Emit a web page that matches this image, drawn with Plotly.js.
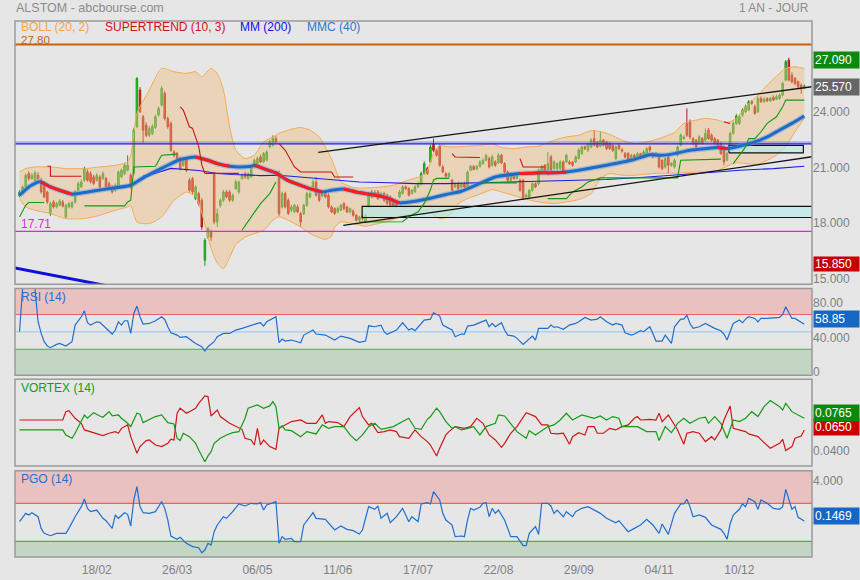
<!DOCTYPE html>
<html><head><meta charset="utf-8">
<script src="https://cdn.plot.ly/plotly-3.0.1.min.js"></script>
<style>html,body{margin:0;padding:0;background:#e6e6e6;}#chart{width:860px;height:580px;}</style>
</head><body><div id="chart"></div>
<script>
// ---------- DATA (bar number = trading day, 0 = 14/01) ----------
const tickBars = [25,51,77,103,129,155,181,207,233];
const tickLabels = ['18/02','26/03','06/05','11/06','17/07','22/08','29/09','04/11','10/12'];

const open = [19.62,19.84,20.11,20.83,20.56,20.47,20.74,20.47,20.29,19.84,
18.67,19.30,19.03,19.12,19.30,18.49,19.03,19.03,19.30,19.93,
20.11,20.47,20.92,20.83,20.65,20.47,20.65,20.56,20.56,20.29,
20.11,19.93,20.11,20.65,20.83,21.01,20.74,20.83,23.36,25.34,
23.90,23.45,22.90,23.00,23.32,23.99,24.53,25.16,23.81,23.54,
22.00,21.91,21.64,21.28,21.64,20.47,20.56,19.48,19.75,19.39,
16.15,17.41,17.68,20.83,18.22,19.12,19.39,19.84,19.84,19.39,
20.02,19.84,20.56,20.83,20.56,20.65,21.19,21.28,21.73,21.46,
21.55,22.27,22.36,22.72,20.83,19.03,19.75,19.39,18.85,18.76,
19.03,18.67,18.67,19.12,19.57,20.11,20.38,19.75,19.62,19.75,
19.66,19.03,18.94,18.76,18.85,19.21,19.03,18.76,18.80,18.58,
18.31,18.55,18.22,19.03,19.84,19.66,19.84,19.57,19.75,19.66,
19.57,19.39,19.30,19.57,19.75,20.11,20.02,19.75,19.84,20.11,
20.29,20.83,21.10,21.46,22.45,22.09,22.30,21.19,20.83,20.65,
20.47,20.11,20.29,20.11,20.29,20.11,21.01,21.22,21.10,21.22,
21.37,21.55,21.64,21.28,21.46,21.41,21.82,21.37,20.92,20.47,
20.83,20.56,20.47,20.47,19.57,19.57,19.93,20.29,20.29,20.92,
21.28,21.01,21.73,21.10,21.10,21.10,21.46,21.46,21.46,21.46,
21.46,21.64,21.91,22.27,22.09,22.27,22.72,22.54,22.30,22.63,
22.54,22.45,22.36,21.64,22.36,22.12,21.91,21.91,21.55,21.82,
21.64,21.91,21.82,21.82,22.27,21.91,21.76,21.82,21.55,21.19,
21.73,21.28,21.19,21.82,22.36,22.72,23.54,23.63,22.72,22.63,
22.45,22.72,22.63,23.18,22.90,22.72,22.63,22.45,22.27,21.55,
22.36,23.00,23.54,23.54,23.99,24.17,24.26,24.71,24.44,24.17,
24.89,24.71,24.89,24.76,24.95,24.84,24.89,25.07,25.88,26.96,
26.15,25.97,25.79,25.61,25.48];
const high = [19.95,20.2,20.85,20.95,20.85,21.0,20.9,20.6,20.4,19.9,
19.3,19.4,19.3,19.45,19.4,19.2,19.3,19.35,19.95,20.4,
20.5,21.2,21.05,20.95,20.75,20.85,20.75,20.95,20.65,20.4,
20.2,20.3,21.0,21.1,21.4,21.82,20.85,23.3,26.05,25.5,
24.0,23.6,23.4,23.5,24.0,24.45,25.55,25.3,23.9,23.65,
22.1,22.0,21.75,21.75,21.75,20.6,20.65,20.2,19.85,19.5,
17.35,17.95,17.8,20.9,18.94,19.5,19.95,19.95,19.95,19.75,
20.5,20.45,20.85,20.95,20.9,21.3,21.65,21.75,21.85,22.0,
22.1,22.65,22.9,22.85,21.0,19.85,19.85,19.5,19.15,19.2,
19.15,18.75,19.2,19.85,19.85,20.5,20.65,19.85,19.8,19.85,
19.75,19.1,19.0,19.05,19.2,19.3,19.1,19.0,18.9,18.65,
18.55,18.65,18.65,19.75,19.95,19.95,19.95,19.85,19.85,19.75,
19.65,19.45,19.4,19.95,20.2,20.2,20.1,20.0,20.2,20.4,
20.95,21.5,21.2,22.4,22.72,22.2,22.4,21.3,20.9,20.9,
20.55,20.35,20.4,20.35,20.4,21.0,21.3,21.3,21.3,21.55,
21.65,21.9,21.75,21.85,21.55,21.95,21.9,21.45,21.0,20.9,
20.9,20.85,20.55,20.55,19.75,20.0,20.35,20.35,21.1,21.3,
21.35,22.0,21.85,21.55,21.45,21.55,21.55,21.9,21.55,21.5,
21.8,22.2,22.35,22.35,22.5,22.75,23.18,22.6,23.09,22.7,
22.6,22.55,22.45,22.35,22.45,22.2,22.0,22.0,21.9,21.9,
22.0,21.95,22.1,22.25,22.35,22.0,22.0,21.9,21.6,21.7,
21.8,21.45,21.65,22.35,23.0,22.9,24.35,23.75,22.8,22.7,
22.9,22.8,23.27,23.3,23.0,22.8,22.7,22.55,22.35,22.0,
23.1,23.65,24.05,24.0,24.35,24.55,24.8,24.8,24.55,25.0,
25.0,24.95,24.95,24.98,25.05,25.1,25.15,25.8,26.96,27.09,
26.3,26.05,25.85,25.7,25.65];
const low = [19.55,19.75,20.05,20.45,20.5,20.4,20.5,19.75,19.5,19.2,
18.55,18.95,18.95,19.05,19.0,18.4,18.95,18.95,19.2,19.85,
20.05,20.4,20.4,20.3,20.2,20.4,20.05,20.5,20.0,19.95,
19.75,19.85,20.05,20.6,20.75,20.95,20.0,20.75,23.3,24.1,
22.45,22.8,22.8,22.9,23.25,23.9,24.45,23.7,23.25,22.0,
21.7,21.55,21.0,21.2,20.9,19.85,19.7,19.4,19.1,17.8,
15.85,17.3,17.2,18.1,17.95,19.0,19.3,19.5,19.3,19.3,
19.95,19.75,20.5,20.55,20.5,20.6,21.1,21.2,21.4,21.4,
21.5,22.2,22.3,22.45,18.55,18.95,18.95,18.6,18.75,18.7,
18.7,17.95,18.6,19.05,19.5,20.05,19.6,19.3,19.55,19.5,
18.95,18.7,18.6,18.7,18.8,18.85,18.7,18.7,18.5,18.25,
18.2,18.3,18.15,18.95,19.5,19.6,19.4,19.5,19.3,19.15,
19.05,19.05,19.0,19.5,19.7,19.95,19.6,19.7,19.8,20.05,
20.2,20.75,20.75,21.4,22.0,21.75,21.2,20.85,20.6,20.6,
19.85,20.05,19.95,20.05,20.05,20.05,20.95,21.0,21.0,21.15,
21.3,21.5,21.1,21.2,21.2,21.35,21.35,20.85,20.4,20.4,
20.5,20.5,19.85,19.4,19.5,19.5,19.85,20.05,20.2,20.85,
20.85,20.95,20.95,21.05,21.0,21.05,20.85,21.4,21.3,21.2,
21.4,21.6,21.85,22.1,22.0,22.2,22.3,22.2,22.25,22.3,
22.1,22.1,22.0,21.55,22.1,21.95,21.65,21.5,21.5,21.55,
21.55,21.65,21.75,21.75,22.0,21.65,21.7,21.1,21.0,21.1,
20.83,21.2,21.1,21.75,22.3,22.65,22.81,22.7,22.35,22.2,
22.4,22.4,22.55,22.65,22.55,22.4,22.2,21.85,21.28,21.5,
22.3,22.95,23.45,23.45,23.9,24.1,24.2,24.55,24.0,24.1,
24.65,24.65,24.7,24.7,24.75,24.8,24.8,25.0,25.8,25.8,
25.7,25.6,25.4,25.15,25.4];
const close = [19.84,20.11,20.74,20.56,20.74,20.87,20.56,19.84,19.57,19.30,
19.21,19.03,19.21,19.35,19.08,19.12,19.21,19.25,19.84,20.29,
20.38,21.10,20.47,20.38,20.29,20.74,20.11,20.83,20.11,20.02,
19.84,20.20,20.92,21.01,21.28,21.28,20.11,23.18,25.97,24.17,
23.18,22.90,23.27,23.36,23.90,24.35,25.43,23.81,23.36,22.09,
21.82,21.64,21.10,21.64,21.01,19.93,19.84,20.11,19.21,17.95,
17.23,17.86,17.40,18.22,18.67,19.39,19.84,19.57,19.39,19.66,
20.38,20.38,20.74,20.65,20.83,21.19,21.55,21.64,21.46,21.91,
22.00,22.54,22.76,22.54,18.67,19.75,19.03,18.67,19.03,19.12,
18.76,18.22,19.12,19.75,19.75,20.38,19.66,19.39,19.71,19.57,
19.03,18.76,18.67,18.94,19.12,18.94,18.76,18.94,18.58,18.31,
18.49,18.40,18.58,19.66,19.57,19.84,19.48,19.75,19.39,19.21,
19.12,19.12,19.12,19.84,20.11,20.02,19.66,19.93,20.11,20.29,
20.83,21.37,20.83,22.27,22.09,21.82,21.28,20.92,20.69,20.83,
19.93,20.29,20.02,20.29,20.11,20.92,21.22,21.05,21.22,21.46,
21.55,21.82,21.19,21.73,21.28,21.82,21.41,20.92,20.47,20.83,
20.56,20.74,19.93,19.48,19.66,19.93,20.29,20.11,21.01,21.19,
20.92,21.37,21.01,21.46,21.37,21.46,20.92,21.82,21.37,21.28,
21.73,22.09,22.27,22.18,22.45,22.63,22.36,22.27,22.63,22.36,
22.18,22.18,22.09,22.27,22.18,22.05,21.73,21.55,21.82,21.64,
21.91,21.73,22.00,22.18,22.09,21.73,21.91,21.19,21.10,21.64,
21.28,21.37,21.55,22.27,22.90,22.81,22.90,22.81,22.45,22.27,
22.81,22.45,23.00,22.72,22.63,22.45,22.27,21.91,21.46,21.91,
23.00,23.54,23.94,23.90,24.26,24.44,24.71,24.62,24.08,24.89,
24.71,24.84,24.76,24.89,24.80,24.98,25.07,25.70,26.87,25.88,
25.79,25.70,25.52,25.43,25.57];

// Bollinger (20,2)
const bbX = [0,2,5,10,15,21,26,31,35,36,38,42,46,50,54,57,59,62,64,66,68,70,73,76,79,82,84,87,91,94,97,99,101,102,104,108,112,117,121,125,130,132,134,136,138,140,142,145,149,153,156,160,164,168,173,177,181,185,188,191,195,199,203,207,212,215,219,222,226,229,232,235,239,242,245,248,251,254];
const bbUp = [20.92,21.10,21.19,21.19,21.10,21.10,21.19,21.28,21.46,21.8,24.08,25.34,26.51,26.33,26.24,26.33,26.06,26.51,26.24,25.34,23.36,22.09,21.64,21.82,22.54,22.81,23.0,23.18,23.32,23.18,22.81,22.27,21.6,21.19,20.38,20.08,20.05,20.11,20.2,20.43,20.70,21.01,21.91,22.36,22.3,22.27,22.28,22.31,22.36,22.45,22.24,22.18,22.27,22.31,22.63,22.81,22.90,23.15,23.1,22.95,22.63,22.45,22.54,22.72,23.05,23.54,23.72,23.81,23.72,23.57,23.81,24.44,25.07,25.61,26.09,26.51,26.60,26.51];
const bbLo = [19.48,19.03,18.85,18.67,18.40,18.40,18.58,18.85,19.03,19.1,18.22,18.13,18.49,19.39,19.84,19.6,18.7,16.8,16.0,15.7,16.3,17.0,17.4,17.59,17.77,18.3,18.5,18.31,17.95,17.6,17.37,17.28,17.45,17.95,18.22,18.13,17.99,18.17,18.35,18.58,18.76,18.85,18.6,18.40,18.45,18.7,19.2,19.48,19.72,19.97,19.84,19.65,19.45,19.30,19.21,19.30,19.43,19.75,20.56,20.83,20.74,20.74,20.80,20.85,20.85,20.88,20.92,20.92,21.0,21.23,21.41,21.37,21.34,21.55,21.82,22.31,23.09,23.81];

// MMC (40): value and direction of the segment that starts at the point (1 rising/blue, 0 falling/red)
const mmcX = [0,3,6,7,10,13,17,22,29,36,40,44,48,52,57,61,64,68,71,75,76,79,83,87,91,94,98,101,105,109,112,117,120,123,128,133,138,143,149,154,160,162,166,169,172,177,181,190,198,204,208,212,217,222,226,229,233,238,242,246,250,254];
const mmcV = [19.66,20.11,20.38,20.38,20.11,19.93,19.72,19.84,20.02,20.20,20.60,20.95,21.28,21.59,21.73,21.55,21.37,21.23,21.19,21.23,21.28,21.10,20.87,20.45,20.20,20.02,19.84,19.93,20.0,19.84,19.75,19.6,19.45,19.25,19.34,19.5,19.7,19.88,20.3,20.65,20.80,20.83,20.85,20.87,20.87,20.92,21.01,21.28,21.55,21.85,21.82,21.91,22.09,22.18,22.24,22.18,22.31,22.54,22.81,23.18,23.54,23.94];
const mmcDir = [1,1,1,0,0,0,1,1,1,1, 1,1,1,1,0,0,0,1,1,1, 0,0,0,0,0,0,1,1,0,0, 0,0,0,1,1,1,1,1,1,1, 1,0,0,1,0,1,1,1,1,1, 1,1,1,1,0,1,1,1,1,1, 1,1];

// MM (200)
const mm200X = [40,42,49,55,58,64,69,75,78,84,91,97,104,110,117,128,138,149,160,171,179,190,201,212,222,229,233,244,254];
const mm200V = [20.7,20.75,21.11,21.06,21.0,20.84,20.78,20.75,20.72,20.74,20.64,20.56,20.47,20.38,20.35,20.29,20.29,20.33,20.38,20.42,20.45,20.51,20.62,20.74,20.87,20.96,21.01,21.10,21.23];

// SUPERTREND (10,3): 1 = support (green), 0 = resistance (red)
const stX = [0,2,3,8, 9,10,10,20, 21,34,35,36,37,44,46,51, 52,53,55,56,58,59,60,71, 72,75,78,81,83, 84,86,89,91,101,102,108, 110,124,126,129,131,132,133,134,135,139, 140,141,149, 150,161, 162,163,170, 171,177,179,182,184,186,188,213,214,227, 228,230, 231,233,235,236,238,240,242,245,247,248,254];
const stV = [18.49,19.12,19.27,19.27, 21.23,21.23,20.69,20.69, 19.09,19.09,19.30,19.39,21.19,21.23,21.82,21.88, 24.44,24.26,23.36,23.27,22.3,21.3,20.84,20.84, 17.77,18.49,19.21,19.75,20.38, 22.45,22.09,21.19,20.92,20.92,20.65,20.65, 18.22,18.23,18.5,18.77,19.22,19.6,19.94,20.48,20.57,20.57, 21.91,21.73,21.70, 20.33,20.33, 21.64,21.19,21.19, 19.48,19.48,19.84,20.11,20.38,20.5,20.6,20.6,21.55,21.61, 23.63,23.54, 21.37,21.82,22.27,22.72,22.72,23.09,23.54,23.90,24.44,24.80,24.80];
const stSide = [1,1,1,1, 0,0,0,0, 1,1,1,1,1,1,1,1, 0,0,0,0,0,0,0,0, 1,1,1,1,1, 0,0,0,0,0,0,0, 1,1,1,1,1,1,1,1,1,1, 0,0,0, 1,1, 0,0,0, 1,1,1,1,1,1,1,1,1,1, 0,0, 1,1,1,1,1,1,1,1,1,1,1];

// drawn levels, zones and trend lines
const levelHigh = 27.80, levelLow = 17.71, levelBlue = 22.44;
const zoneX0 = [110.9, 229.6], zoneX1 = [258, 253.7], zoneY0 = [18.46, 21.95], zoneY1 = [19.06, 22.35];
const chanUpX = [96.7, 256.5], chanUpY = [21.98, 25.52];
const chanLoX = [104.8, 256.5], chanLoY = [18.03, 21.74];
const downX = [-1.46, 30], downY = [15.74, 14.72];

// RSI (14)
const rsiX = [0,1,5,6,7,8,9,10,12,13,15,17,18,20,21,22,23,25,26,28,30,31,32,33,34,35,36,37,38,39,40,42,44,46,47,48,49,51,52,54,56,57,59,60,61,63,64,66,68,70,72,75,77,78,79,80,83,84,85,86,88,91,92,95,96,99,102,104,107,110,112,113,115,117,118,119,122,124,126,127,128,131,133,134,136,137,139,140,141,143,144,145,147,149,151,152,153,154,156,157,158,160,161,163,165,166,167,168,171,172,173,174,176,178,180,181,183,185,187,188,190,192,193,195,196,198,199,201,202,204,205,206,208,209,211,212,214,215,216,217,218,220,222,225,227,228,229,230,231,233,234,235,236,238,239,240,242,246,247,248,250,251,253,254];
const rsiV = [50.2,100,100,62,48.2,38.7,33.7,31.8,35.6,36.7,33.7,38.7,57.8,67.4,74.3,60.5,57.8,61.6,60.9,54.0,47.5,52.1,61.6,57.8,62.8,62.8,48.2,71.2,79.7,67.4,59.0,59.7,62.8,67.4,64.3,55.9,49.0,46.3,43.6,44.4,39.4,36.7,32.9,27.9,32.9,38.7,44.4,48.2,48.2,52.1,54.0,57.8,59.7,60.5,56.7,61.6,67.4,37.5,41.7,39.4,40.6,37.5,46.3,52.1,47.5,46.3,40.6,45.2,42.5,37.9,39.4,57.0,55.9,57.8,50.2,47.1,52.1,60.5,52.1,54.0,51.3,63.6,64.7,72.0,68.2,57.8,54.0,52.1,44.4,47.5,47.5,56.7,57.8,60.5,63.6,55.9,59.7,55.9,60.5,52.1,46.3,45.2,42.5,35.6,41.4,45.2,40.6,54.0,54.0,57.8,55.1,55.9,52.9,57.8,59.7,61.6,66.6,63.6,64.7,67.4,61.6,57.8,59.7,57.8,49.0,46.3,47.5,51.3,50.2,55.9,48.2,39.4,39.4,46.3,36.7,55.9,64.7,64.7,69.3,59.7,54.0,55.9,59.7,54.0,51.3,47.5,40.6,50.2,59.7,63.6,60.5,64.7,67.4,65.5,61.6,65.5,65.5,66.6,70.0,78.9,65.5,65.5,61.6,58.85];

// VORTEX (14)
const viPlusX = [0,14,15,17,18,20,21,22,24,26,27,29,30,32,33,35,36,38,39,40,42,44,46,48,50,51,52,53,55,57,58,60,61,62,63,65,67,69,71,73,74,77,79,81,82,83,84,85,86,88,91,93,96,98,100,102,105,107,109,111,113,115,117,119,121,124,126,128,130,132,133,135,136,138,140,141,143,145,147,149,151,154,155,157,159,161,164,165,167,171,173,175,177,179,182,184,186,188,190,192,194,195,198,200,203,206,207,209,211,213,215,217,220,222,223,225,227,229,231,233,235,237,239,241,243,246,247,248,250,252,254];
const viPlusV = [0.0649,0.0649,0.0599,0.0566,0.0616,0.0748,0.0798,0.0765,0.0821,0.0788,0.0775,0.0831,0.0788,0.0798,0.0765,0.0715,0.0682,0.0815,0.0805,0.0722,0.0748,0.0782,0.0798,0.0722,0.0709,0.0566,0.0543,0.0616,0.0582,0.0516,0.0450,0.0333,0.0390,0.0433,0.0516,0.0566,0.0599,0.0622,0.0632,0.0765,0.0865,0.0898,0.0865,0.0888,0.0931,0.0881,0.0665,0.0689,0.0649,0.0642,0.0582,0.0632,0.0609,0.0699,0.0665,0.0682,0.0682,0.0599,0.0543,0.0599,0.0682,0.0715,0.0655,0.0665,0.0682,0.0732,0.0765,0.0665,0.0655,0.0755,0.0782,0.0865,0.0831,0.0732,0.0665,0.0682,0.0649,0.0665,0.0682,0.0599,0.0682,0.0715,0.0798,0.0788,0.0715,0.0632,0.0566,0.0642,0.0599,0.0682,0.0699,0.0748,0.0815,0.0748,0.0798,0.0782,0.0765,0.0788,0.0748,0.0782,0.0765,0.0682,0.0682,0.0682,0.0632,0.0632,0.0543,0.0682,0.0622,0.0715,0.0765,0.0715,0.0765,0.0775,0.0715,0.0782,0.0715,0.0566,0.0748,0.0732,0.0765,0.0831,0.0782,0.0881,0.0941,0.0881,0.0848,0.0914,0.0831,0.0798,0.0765];
const viMinusX = [0,14,15,16,18,20,21,23,25,27,29,31,32,33,35,36,38,39,41,42,44,46,48,49,50,51,52,54,55,57,58,60,61,62,64,65,68,70,72,73,75,76,77,78,79,81,83,84,86,88,91,93,96,98,99,100,103,105,107,110,111,113,114,116,118,120,122,123,126,128,130,132,133,135,136,138,139,141,144,146,148,150,152,154,156,157,159,161,164,165,167,169,171,172,174,176,178,179,181,183,184,186,187,189,191,193,195,197,199,200,201,204,206,207,208,210,212,213,215,216,218,220,222,224,225,227,228,230,231,233,235,236,239,241,243,246,247,248,250,251,253,254];
const viMinusV = [0.0748,0.0748,0.0831,0.0841,0.0765,0.0715,0.0649,0.0632,0.0609,0.0592,0.0616,0.0632,0.0616,0.0665,0.0699,0.0582,0.0416,0.0483,0.0543,0.0549,0.0499,0.0483,0.0516,0.0556,0.0549,0.0815,0.0865,0.0815,0.0831,0.0865,0.0914,0.0987,0.0981,0.0788,0.0848,0.0782,0.0715,0.0682,0.0655,0.0566,0.0549,0.0499,0.0665,0.0499,0.0549,0.0483,0.0456,0.0665,0.0699,0.0732,0.0748,0.0715,0.0715,0.0798,0.0715,0.0732,0.0722,0.0682,0.0782,0.0871,0.0782,0.0699,0.0715,0.0622,0.0632,0.0649,0.0632,0.0582,0.0566,0.0649,0.0582,0.0533,0.0499,0.0390,0.0466,0.0599,0.0632,0.0682,0.0665,0.0682,0.0765,0.0715,0.0599,0.0549,0.0476,0.0516,0.0616,0.0682,0.0821,0.0808,0.0782,0.0699,0.0699,0.0616,0.0609,0.0616,0.0506,0.0582,0.0622,0.0599,0.0682,0.0682,0.0616,0.0616,0.0665,0.0649,0.0682,0.0699,0.0765,0.0782,0.0748,0.0755,0.0748,0.0815,0.0732,0.0798,0.0699,0.0649,0.0506,0.0616,0.0632,0.0616,0.0533,0.0582,0.0549,0.0649,0.0748,0.0888,0.0665,0.0649,0.0632,0.0609,0.0582,0.0523,0.0466,0.0516,0.0556,0.0443,0.0483,0.0566,0.0589,0.0649];

// PGO (14)
const pgoX = [0,2,3,4,6,7,8,10,12,15,16,18,20,21,22,23,25,27,28,30,31,32,34,35,36,37,38,39,40,42,44,46,47,48,49,51,52,54,56,58,59,60,61,62,63,64,66,67,69,71,73,75,77,78,79,80,83,84,85,86,88,89,91,92,95,96,99,101,102,104,106,108,110,111,113,115,116,117,119,120,122,124,126,127,129,130,132,133,134,136,137,138,140,141,143,144,145,146,147,149,150,151,152,153,154,155,157,159,160,161,163,164,165,167,168,169,171,172,173,174,175,176,177,179,180,182,184,186,188,190,192,193,194,196,197,199,201,203,205,207,208,210,212,214,215,216,217,218,220,222,224,227,228,229,230,231,233,234,235,236,238,239,240,242,244,246,247,248,250,251,252,254];
const pgoV = [0.07,0.94,0.77,1.01,0.59,-0.64,-1.16,-1.41,-1.16,-1.16,-0.64,0.59,1.65,2.45,1.47,1.12,1.29,0.42,0.17,-0.64,0.77,0.42,1.01,0.84,-0.39,2.35,3.75,1.65,1.01,0.94,1.12,2.17,1.47,0.24,-1.44,-1.79,-1.58,-2.21,-2.56,-2.67,-3.20,-2.92,-2.21,-2.39,-0.99,-0.28,0.59,0.42,1.12,1.93,1.72,2.0,1.93,2.07,1.29,1.82,2.17,-2.21,-1.51,-1.79,-1.69,-2.04,-2.04,-0.28,1.01,0.42,0.31,-0.46,-0.81,-0.39,-0.74,-0.88,-1.23,-0.81,1.65,1.37,1.72,0.42,0.94,-0.04,0.59,1.47,0.07,0.59,0.07,1.93,2.07,1.93,3.22,2.35,0.94,0.24,-0.28,-1.51,-1.44,-1.51,0.24,1.47,1.29,1.58,2.0,2.07,0.59,1.47,0.94,1.29,0.24,-1.51,-1.51,-1.51,-2.46,-2.46,-1.16,-0.46,-1.27,2.0,2.0,1.72,0.94,1.29,0.94,0.59,1.12,0.59,1.12,1.47,1.65,1.29,0.94,0.42,0.07,-0.04,0.17,-0.64,-0.99,-0.64,-0.28,0.31,-0.28,-1.16,-0.18,-1.27,0.94,1.93,1.93,2.42,1.65,0.59,0.77,0.52,-0.28,-0.74,-1.16,-1.79,-0.18,0.77,1.37,1.93,1.65,2.52,2.17,1.37,2.35,2.0,1.47,1.37,1.65,3.47,1.37,1.65,0.52,0.1469];

// right-hand value tags
const tagText = ['27.090','25.570','15.850','58.85','0.0650','0.0765','0.1469'];
const tagColor = ['#0d8a0d','#666666','#c40000','#1467c2','#c80000','#0a8a0a','#1467c2'];

// ---------- DRAWING ----------
const F = 'Arial, "Liberation Sans", Helvetica, sans-serif';
const bars = close.map((_, k) => k);

function segments(xs, vs, flags, want) {
  const X = [], Y = [];
  for (let k = 0; k < xs.length; k++) {
    if (flags[k] === want) { X.push(xs[k]); Y.push(vs[k]); }
    else if (X.length && X[X.length - 1] !== null) { X.push(null); Y.push(null); }
  }
  return {X, Y};
}
function redSegs(xs, vs, dir) {
  const X = [], Y = [];
  for (let k = 0; k < xs.length; k++) {
    const inRed = dir[k] === 0 || (k > 0 && dir[k - 1] === 0);
    if (inRed) { X.push(xs[k]); Y.push(vs[k]); }
    else if (X.length && X[X.length - 1] !== null) { X.push(null); Y.push(null); }
  }
  return {X, Y};
}
const L = (x, y, color, width, extra) => Object.assign({x, y, type: 'scatter', mode: 'lines', line: {color, width}, hoverinfo: 'skip', xaxis: 'x', yaxis: 'y'}, extra || {});

const traces = [];
// Bollinger band
traces.push(L(bbX.concat(bbX.slice().reverse()), bbUp.concat(bbLo.slice().reverse()), 'rgba(0,0,0,0)', 0, {fill: 'toself', fillcolor: 'rgba(236,188,130,0.44)'}));
traces.push(L(bbX, bbUp, '#f6a94e', 1, {line: {color: '#f6a94e', width: 1, shape: 'spline', smoothing: 0.6}}));
traces.push(L(bbX, bbLo, '#f6a94e', 1, {line: {color: '#f6a94e', width: 1, shape: 'spline', smoothing: 0.6}}));
// zones
for (let k = 0; k < zoneX0.length; k++) {
  traces.push(L([zoneX0[k], zoneX1[k], zoneX1[k], zoneX0[k], zoneX0[k]], [zoneY0[k], zoneY0[k], zoneY1[k], zoneY1[k], zoneY0[k]], '#111111', 1.2, {fill: 'toself', fillcolor: 'rgba(178,236,236,0.62)'}));
}
// horizontal blue level
traces.push(L([-5, 260], [levelBlue + 0.06, levelBlue + 0.06], 'rgba(90,90,250,0.40)', 3));
traces.push(L([-5, 260], [levelBlue, levelBlue], '#2a2ad8', 1.2));
// MM200
traces.push(L(mm200X, mm200V, '#1c1ce8', 1.1));
// MMC 40
traces.push(L(mmcX, mmcV, 'rgba(90,150,225,0.45)', 5.5, {line: {color: 'rgba(90,150,225,0.45)', width: 5.5, shape: 'spline', smoothing: 0.5}}));
traces.push(L(mmcX, mmcV, '#1f6cc8', 3, {line: {color: '#1f6cc8', width: 3, shape: 'spline', smoothing: 0.5}}));
const rs = redSegs(mmcX, mmcV, mmcDir);
traces.push(L(rs.X, rs.Y, '#ff1a1a', 3, {connectgaps: false, line: {color: '#ff1a1a', width: 3, shape: 'spline', smoothing: 0.5}}));
// Supertrend
const stG = segments(stX, stV, stSide, 1), stR = segments(stX, stV, stSide, 0);
traces.push(L(stG.X, stG.Y, '#119a11', 1.1));
traces.push(L(stR.X, stR.Y, '#c81414', 1.1));
// candles
traces.push({type: 'candlestick', x: bars, open, high, low, close, xaxis: 'x', yaxis: 'y', hoverinfo: 'skip', whiskerwidth: 0,
  increasing: {line: {color: '#1f9a1f', width: 1}, fillcolor: '#2fd12f'},
  decreasing: {line: {color: '#b51a10', width: 1}, fillcolor: '#e8291c'}});
// trend lines
traces.push(L(chanUpX, chanUpY, '#141414', 1.3));
traces.push(L(chanLoX, chanLoY, '#141414', 1.3));
traces.push(L(downX, downY, '#1010dc', 3));

// RSI
traces.push({x: rsiX, y: rsiV, type: 'scatter', mode: 'lines', line: {color: '#1f6fd0', width: 1.2}, xaxis: 'x', yaxis: 'y2', hoverinfo: 'skip'});
// Vortex
traces.push({x: viMinusX, y: viMinusV, type: 'scatter', mode: 'lines', line: {color: '#cc1818', width: 1.2}, xaxis: 'x', yaxis: 'y3', hoverinfo: 'skip'});
traces.push({x: viPlusX, y: viPlusV, type: 'scatter', mode: 'lines', line: {color: '#159b15', width: 1.2}, xaxis: 'x', yaxis: 'y3', hoverinfo: 'skip'});
// PGO
traces.push({x: pgoX, y: pgoV, type: 'scatter', mode: 'lines', line: {color: '#1f6fd0', width: 1.2}, xaxis: 'x', yaxis: 'y4', hoverinfo: 'skip'});

// plot area in pixels: x 15..812, y 21..557
const PX = px => (px - 15) / 797, PY = py => (557 - py) / 536;

const shapes = [
  // RSI zones
  {type: 'rect', xref: 'paper', x0: 0, x1: 1, yref: 'y2', y0: 70, y1: 100, fillcolor: '#e9c1c1', line: {width: 0}, layer: 'below'},
  {type: 'rect', xref: 'paper', x0: 0, x1: 1, yref: 'y2', y0: 0, y1: 30, fillcolor: '#c3d6c3', line: {width: 0}, layer: 'below'},
  {type: 'line', xref: 'paper', x0: 0, x1: 1, yref: 'y2', y0: 70, y1: 70, line: {color: '#f06060', width: 1.2}, layer: 'below'},
  {type: 'line', xref: 'paper', x0: 0, x1: 1, yref: 'y2', y0: 50, y1: 50, line: {color: '#9fcdf8', width: 1.2}, layer: 'below'},
  {type: 'line', xref: 'paper', x0: 0, x1: 1, yref: 'y2', y0: 30, y1: 30, line: {color: '#5aa55a', width: 1.2}, layer: 'below'},
  // PGO zones
  {type: 'rect', xref: 'paper', x0: 0, x1: 1, yref: 'y4', y0: 2, y1: 5.43, fillcolor: '#e9c1c1', line: {width: 0}, layer: 'below'},
  {type: 'rect', xref: 'paper', x0: 0, x1: 1, yref: 'y4', y0: -3.65, y1: -2, fillcolor: '#c3d6c3', line: {width: 0}, layer: 'below'},
  {type: 'line', xref: 'paper', x0: 0, x1: 1, yref: 'y4', y0: 2, y1: 2, line: {color: '#f06060', width: 1.2}, layer: 'below'},
  {type: 'line', xref: 'paper', x0: 0, x1: 1, yref: 'y4', y0: -2, y1: -2, line: {color: '#5aa55a', width: 1.2}, layer: 'below'},
  // price levels
  {type: 'line', xref: 'paper', x0: 0, x1: 1, yref: 'y', y0: levelHigh, y1: levelHigh, line: {color: '#c8620c', width: 2.2}},
  {type: 'line', xref: 'paper', x0: 0, x1: 1, yref: 'y', y0: levelLow, y1: levelLow, line: {color: '#e81ee8', width: 1.2}},
];
// panel frames
['y', 'y2', 'y3', 'y4'].forEach(a => shapes.push({type: 'rect', xref: 'paper', x0: 0, x1: 1, yref: a + ' domain', y0: 0, y1: 1, line: {color: '#9a9a9a', width: 1.5}, fillcolor: 'rgba(0,0,0,0)'}));

const ann = [];
const txt = (text, px, py, color, size, anchor) => ann.push({text, x: PX(px), y: PY(py), xref: 'paper', yref: 'paper', xanchor: anchor || 'left', yanchor: 'middle', showarrow: false, font: {family: F, size: size || 12, color}});
txt('ALSTOM - abcbourse.com', 14, 8, '#8c8c8c', 12.5);
txt('1 AN - JOUR', 811, 8, '#8c8c8c', 12, 'right');
txt('BOLL (20, 2)', 19, 27.5, '#f5a54a');
txt('SUPERTREND (10, 3)', 103, 27.5, '#cc1414');
txt('MM (200)', 238, 27.5, '#1010e8');
txt('MMC (40)', 305, 27.5, '#2878d0');
txt('27.80', 19, 40.5, '#c46412', 11.5);
txt('17.71', 19, 224.5, '#e81ee8');
txt('RSI (14)', 19, 297, '#1f6fd0');
txt('VORTEX (14)', 19, 388, '#159b15');
txt('PGO (14)', 19, 479, '#1f6fd0');
const tagY = [59.5, 87.2, 264.3, 318.7, 426.7, 413.3, 515.7];
const tagH = [14, 14, 12, 14, 14, 14, 14];
tagText.forEach((t, k) => ann.push({text: t, x: PX(813), y: PY(tagY[k]), xref: 'paper', yref: 'paper', xanchor: 'left', yanchor: 'middle', showarrow: false, align: 'left', width: 43, height: tagH[k], borderpad: 1, bgcolor: tagColor[k], font: {family: F, size: 12, color: '#ffffff'}}));

const yax = (domain, range, tickvals, ticktext, shift) => ({domain, range, tickvals, ticktext, side: 'right', anchor: 'x', showgrid: false, zeroline: false, showline: false, ticks: '', ticklabelshift: shift, tickfont: {family: F, size: 12, color: '#808080'}, fixedrange: true});

const layout = {
  width: 860, height: 580,
  margin: {l: 15, r: 48, t: 21, b: 23, pad: 0},
  paper_bgcolor: '#e6e6e6', plot_bgcolor: '#e6e6e6',
  showlegend: false, hovermode: false,
  xaxis: {range: [-1.46, 256.5], anchor: 'y4', tickvals: tickBars, ticktext: tickLabels, showgrid: false, zeroline: false, showline: false, ticks: '', ticklabelstandoff: 4, tickfont: {family: F, size: 12, color: '#808080'}, rangeslider: {visible: false}, fixedrange: true},
  yaxis: yax([0.509, 1], [14.86, 29.07], [15, 18, 21, 24], ['15.000', '18.000', '21.000', '24.000'], -3),
  yaxis2: yax([0.339, 0.501], [0, 100], [0, 40, 80], ['0', '40.000', '80.00'], -3),
  yaxis3: yax([0.170, 0.3315], [0.0291, 0.1153], [0.04], ['0.0400'], -4),
  yaxis4: yax([0, 0.161], [-3.65, 5.43], [4], ['4.000'], -3),
  shapes, annotations: ann,
};
Plotly.newPlot('chart', traces, layout, {staticPlot: true, displayModeBar: false});
</script></body></html>
